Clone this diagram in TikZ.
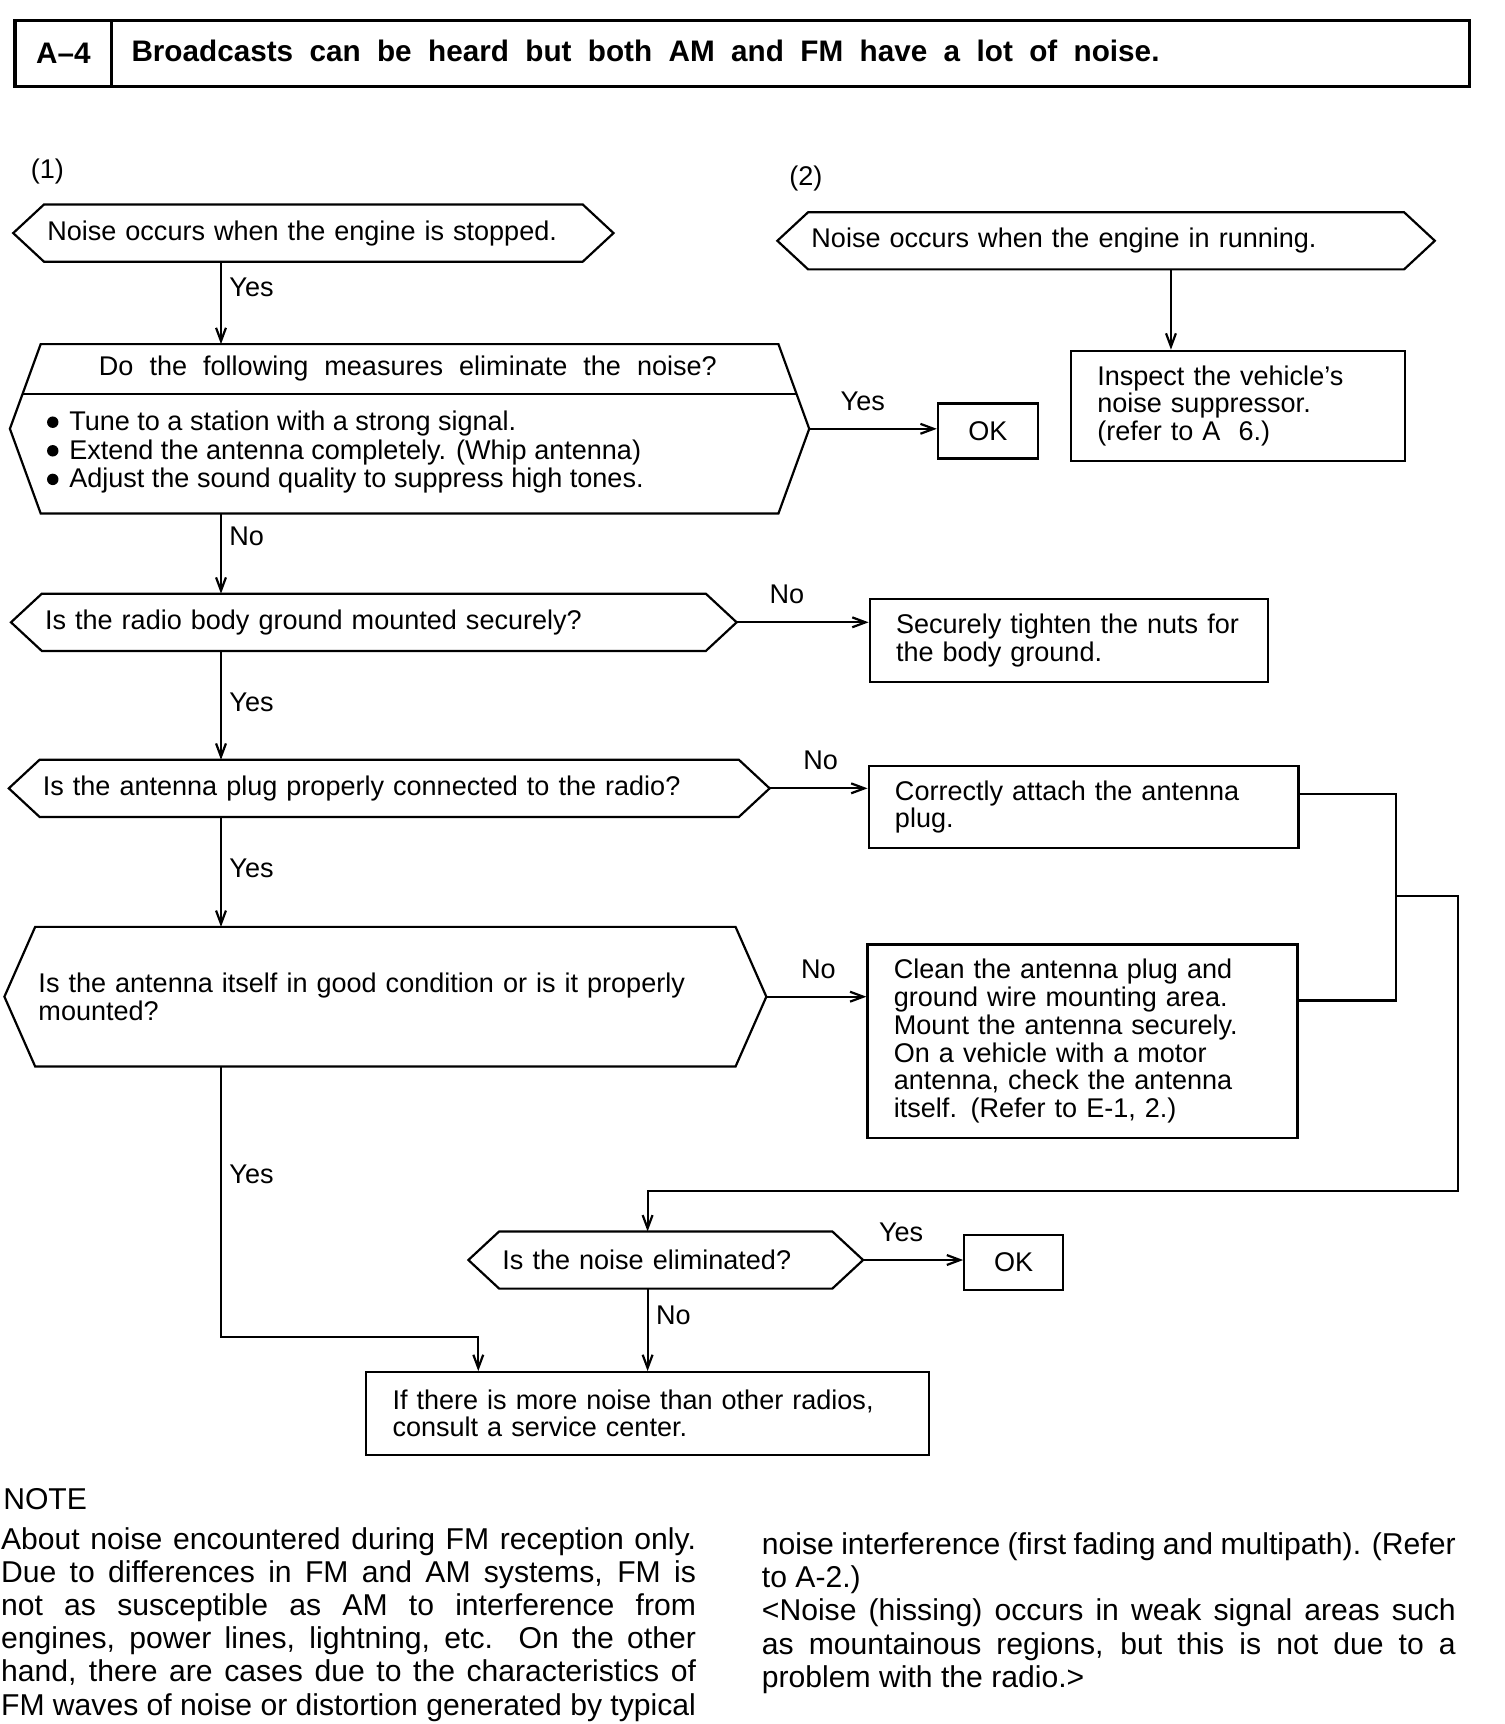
\documentclass[tikz,border=0pt]{standalone}
\usepackage{fontspec}
\setmainfont{Liberation Sans}
\usepackage{tikz}
\usetikzlibrary{arrows.meta}
\usetikzlibrary{calc}
\tikzset{>={Straight Barb[length=6pt,width=4.5pt]}}
\tikzset{
  query/.style={rectangle, inner xsep=1pt, inner ysep=0pt, align=left, anchor=north west,
    minimum height=25pt,
    append after command={(\tikzlastnode.north west) -- (\tikzlastnode.north east)
      -- ([xshift=14pt]\tikzlastnode.east) -- (\tikzlastnode.south east)
      -- (\tikzlastnode.south west) -- ([xshift=-14pt]\tikzlastnode.west) -- cycle}},
  box/.style={draw, rectangle, inner xsep=12pt, inner ysep=0pt, align=left, anchor=north west},
  okbox/.style={draw, rectangle, minimum width=45.5pt, minimum height=25pt, anchor=north west},
  heading/.style={draw, rectangle, line width=1.6pt, minimum height=30pt, anchor=north west,
    font=\bfseries\fontsize{13.5}{15}\selectfont},
  notetext/.style={inner sep=0pt, align=left, anchor=north west, font=\fontsize{13.7}{15.1}\selectfont},
}

\begin{document}
\begin{tikzpicture}[x=0.5pt, y=-0.5pt, line width=1pt, font=\fontsize{12.3}{12.6}\selectfont]
        \useasboundingbox (0,0) rectangle (1368,1568);

        % Title bar
        \node[heading, minimum width=44pt] (code) at (12,17) {A–4};
        \node[heading, minimum width=617.5pt, inner xsep=9pt] (title) at (100,17)
          {\makebox[599.5pt][l]{\raisebox{2pt}{\makebox[467.5pt]{Broadcasts\hfill can\hfill be\hfill heard\hfill
           but\hfill both\hfill AM\hfill and\hfill FM\hfill have\hfill a\hfill lot\hfill of\hfill noise.}}}};

        \node[anchor=mid west, inner sep=0pt] (case1) at (27,157) {(1)};
        \node[anchor=mid west, inner sep=0pt] (case2) at (717,163) {(2)};

        % Helper points
        \coordinate (trunk) at (201,0);
        \coordinate (drop) at (1065,0);
        \coordinate (rejoin) at (589,0);
        \coordinate (bend) at (435,1216);
        \coordinate (loopa) at (1270,722);
        \coordinate (loopb) at (1270,910);
        \coordinate (merge) at (1270,815);
        \coordinate (loopc) at (1326,1083);

        % Questions
        \draw (40,186) node[query, text width=242pt] (q1) {Noise occurs when the engine is stopped.};
        \draw (37,313) node[query, text width=332.5pt, minimum height=76pt] (q2) {};
        \node[anchor=mid] (q2head) at (371,336)
          {\makebox[281pt][s]{Do the following measures eliminate the noise?}};
        \node[anchor=north west, align=left, inner sep=0pt, font=\fontsize{12.3}{13}\selectfont] (q2list) at (62,373)
          {Tune to a station with a strong signal.\\
           Extend the antenna completely. (Whip antenna)\\
           Adjust the sound quality to suppress high tones.};
        \foreach \y in {384,410,436}
          \fill (48,\y) circle (2.6pt);
        \draw ($(q2.north west)!.59!([xshift=-14pt]q2.west)$) -- ($(q2.north east)!.59!([xshift=14pt]q2.east)$);
        \draw (38,540) node[query, text width=299pt] (q3) {Is the radio body ground mounted securely?};
        \draw (36,691) node[query, text width=315pt] (q4) {Is the antenna plug properly connected to the radio?};
        \draw (32,843) node[query, text width=315.5pt, minimum height=62.5pt] (q5)
          {Is the antenna itself in good condition or is it properly\\mounted?};
        \draw (454,1120) node[query, text width=148.5pt] (q6) {Is the noise eliminated?};
        \draw (735,193) node[query, text width=268pt] (qr) {Noise occurs when the engine in running.};

        % Actions
        \node[okbox] (ok1) at (852,366) {OK};
        \node[okbox, minimum width=45pt] (ok2) at (876,1122) {OK};
        \node[box, text width=128pt, minimum height=50pt] (insp) at (973,318)
          {Inspect the vehicle's\\noise suppressor.\\(refer to A\ \ 6.)};
        \node[box, text width=157pt, minimum height=37.5pt] (tight) at (790,544)
          {Securely tighten the nuts for\\the body ground.};
        \node[box, text width=171.5pt, minimum height=37pt] (attach) at (789,696)
          {Correctly attach the antenna\\plug.};
        \node[box, text width=171.5pt, minimum height=88pt] (clean) at (788,858)
          {Clean the antenna plug and\\ground wire mounting area.\\Mount the antenna securely.\\On a vehicle with a motor\\antenna, check the antenna\\itself. (Refer to E-1, 2.)};
        \node[box, text width=232pt, minimum height=37.5pt] (final) at (332,1247)
          {If there is more noise than other radios,\\consult a service center.};

        % Connectors
        \draw[->] (q1.south -| trunk) -- node[right, pos=.31] (yes1) {Yes} (q2.north -| trunk);
        \draw[->] (q2.south -| trunk) -- node[right, pos=.29] (no1) {No} (q3.north -| trunk);
        \draw[->] (q3.south -| trunk) -- node[right, pos=.47] (yes2) {Yes} (q4.north -| trunk);
        \draw[->] (q4.south -| trunk) -- node[right, pos=.47] (yes3) {Yes} (q5.north -| trunk);
        \draw[->] (q5.south -| trunk) -- node[right, pos=.4] (yes4) {Yes} (trunk |- bend) -- (bend) -- (final.north -| bend);
        \draw[->] ([xshift=14pt]q2.east) -- node[above=4.5pt, pos=.42] (yes5) {Yes} (q2.east -| ok1.west);
        \draw[->] ([xshift=14pt]q3.east) -- node[above=4.5pt, pos=.38] (no2) {No} (q3.east -| tight.west);
        \draw[->] ([xshift=14pt]q4.east) -- node[above=4.5pt, pos=.52] (no3) {No} (q4.east -| attach.west);
        \draw[->] ([xshift=14pt]q5.east) -- node[above=4.5pt, pos=.52] (no4) {No} (q5.east -| clean.west);
        \draw[->] ([xshift=14pt]q6.east) -- node[above=4.5pt, pos=.38] (yes6) {Yes} (q6.east -| ok2.west);
        \draw[->] (q6.south -| rejoin) -- node[right, pos=.32] (no5) {No} (final.north -| rejoin);
        \draw[->] (qr.south -| drop) -- (insp.north -| drop);
        \draw (attach.east |- loopa) -- (loopa) -- (loopb) -- (clean.east |- loopb);
        \draw[->] (merge) -| (loopc) -| (q6.north -| rejoin);

        % Note
        \node[anchor=mid west, inner sep=0pt, font=\fontsize{13.7}{15.1}\selectfont] (note) at (2,1368) {NOTE};
        \node[notetext] (notea) at (0,1388)
          {\makebox[316pt][s]{About noise encountered during FM reception only.}\\
           \makebox[316pt][s]{Due to differences in FM and AM systems, FM is}\\
           \makebox[316pt][s]{not as susceptible as AM to interference from}\\
           \makebox[316pt][s]{engines, power lines, lightning, etc. On the other}\\
           \makebox[316pt][s]{hand, there are cases due to the characteristics of}\\
           \makebox[316pt][s]{FM waves of noise or distortion generated by typical}};
        \node[notetext] (noteb) at (692,1393)
          {\makebox[315.5pt][s]{noise interference (first fading and multipath). (Refer}\\
           to A-2.)\\
           \makebox[315.5pt][s]{<Noise (hissing) occurs in weak signal areas such}\\
           \makebox[315.5pt][s]{as mountainous regions, but this is not due to a}\\
           problem with the radio.>};
\end{tikzpicture}
\end{document}
